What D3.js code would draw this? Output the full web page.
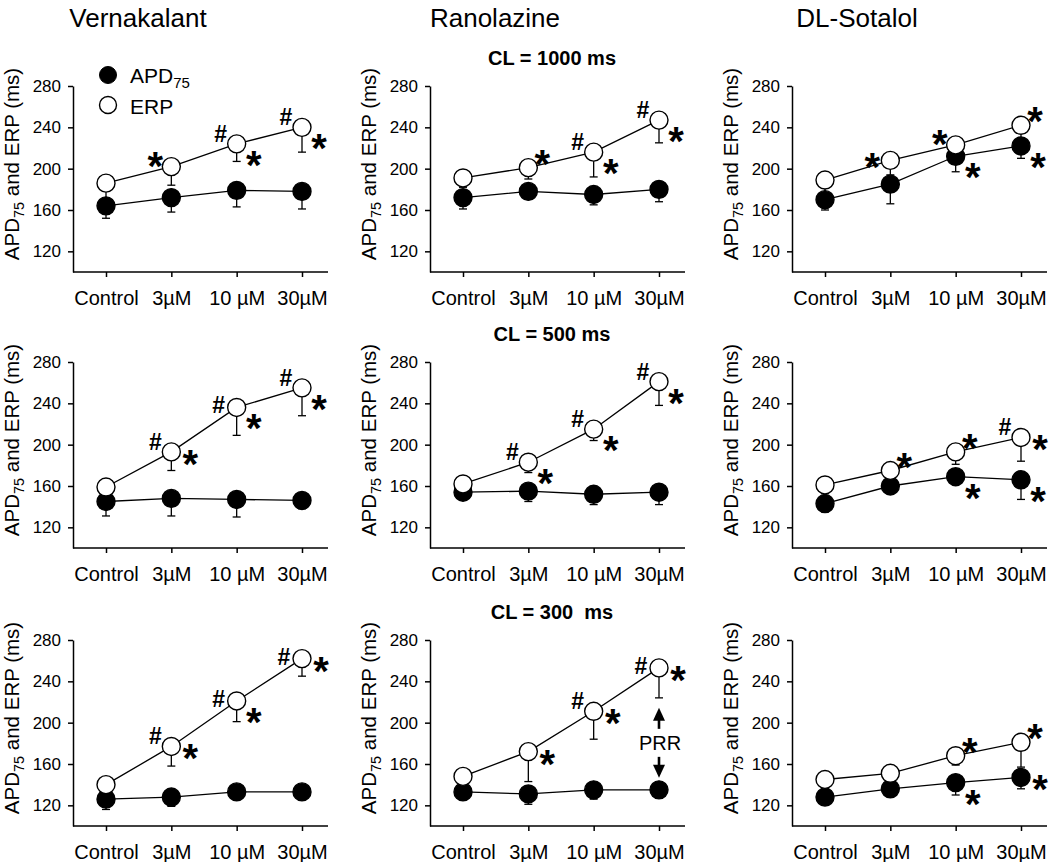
<!DOCTYPE html>
<html lang="en">
<head>
<meta charset="UTF-8">
<title>APD75 and ERP</title>
<script src="https://d3js.org/d3.v7.min.js"></script>
<style>
  body { margin: 0; background: #fff; }
  svg text { font-family: "Liberation Sans", Arial, sans-serif; fill: #000; }
</style>
</head>
<body>
<div id="chart"></div>
<script>
// columns = drugs, rows = pacing cycle length
var drugs = ["Vernakalant", "Ranolazine", "DL-Sotalol"];
var cycleLengths = ["CL = 1000 ms", "CL = 500 ms", "CL = 300  ms"];
var doses = ["Control", "3µM", "10 µM", "30µM"];
var yTicks = [120, 160, 200, 240, 280];

// [row][col] -> Control, 3, 10, 30 µM
var apdMean = [
    [[164, 172, 179, 178], [172, 178, 175, 180], [170, 185, 212, 222]],
    [[145, 148, 147, 146], [154, 155, 152, 154], [143, 160, 169, 166]],
    [[126, 128, 133, 133], [133, 131, 135, 135], [128, 136, 142, 147]]
];
var apdErr = [
    [[12, 14, 16, 17], [11, 6, 10, 12], [10, 19, 15, 12]],
    [[14, 17, 17, 8], [7, 10, 10, 12], [8, 5, 6, 19]],
    [[10, 9, 5, 5], [5, 10, 9, 8], [5, 5, 12, 11]]
];
var erpMean = [
    [[186, 202, 224, 240], [191, 201, 216, 247], [189, 208, 223, 242]],
    [[159, 193, 236, 255], [162, 183, 215, 261], [161, 175, 193, 207]],
    [[140, 177, 221, 262], [148, 172, 211, 253], [145, 151, 168, 181]]
];
var erpErr = [
    [[16, 18, 17, 24], [9, 11, 24, 22], [13, 14, 8, 14]],
    [[10, 18, 27, 27], [8, 10, 11, 23], [8, 6, 12, 23]],
    [[8, 19, 20, 17], [8, 29, 27, 29], [6, 5, 9, 24]]
];

// significance marks: row, col, dose index, series, symbol, placement
var marks = [
    [0, 0, 1, "erp", "*", "ul"], [0, 0, 2, "erp", "#", "ul"], [0, 0, 2, "erp", "*", "lr"],
    [0, 0, 3, "erp", "#", "ul"], [0, 0, 3, "erp", "*", "lr"],
    [0, 1, 1, "erp", "*", "ur"], [0, 1, 2, "erp", "#", "ul"], [0, 1, 2, "erp", "*", "lr"],
    [0, 1, 3, "erp", "#", "ul"], [0, 1, 3, "erp", "*", "lr"],
    [0, 2, 1, "erp", "*", "l"], [0, 2, 2, "erp", "*", "ul"], [0, 2, 3, "erp", "*", "ur"],
    [0, 2, 2, "apd", "*", "lr"], [0, 2, 3, "apd", "*", "lr"],
    [1, 0, 1, "erp", "#", "ul"], [1, 0, 1, "erp", "*", "r"], [1, 0, 2, "erp", "#", "l"],
    [1, 0, 2, "erp", "*", "lr"], [1, 0, 3, "erp", "#", "ul"], [1, 0, 3, "erp", "*", "lr"],
    [1, 1, 1, "erp", "#", "ul"], [1, 1, 1, "erp", "*", "lr"], [1, 1, 2, "erp", "#", "ul"],
    [1, 1, 2, "erp", "*", "lr"], [1, 1, 3, "erp", "#", "ul"], [1, 1, 3, "erp", "*", "lr"],
    [1, 2, 1, "erp", "*", "ur"], [1, 2, 2, "erp", "*", "ur"], [1, 2, 3, "erp", "#", "ul"],
    [1, 2, 3, "erp", "*", "r"], [1, 2, 2, "apd", "*", "lr"], [1, 2, 3, "apd", "*", "lr"],
    [2, 0, 1, "erp", "#", "ul"], [2, 0, 1, "erp", "*", "r"], [2, 0, 2, "erp", "#", "l"],
    [2, 0, 2, "erp", "*", "lr"], [2, 0, 3, "erp", "#", "l"], [2, 0, 3, "erp", "*", "r"],
    [2, 1, 1, "erp", "*", "r"], [2, 1, 2, "erp", "#", "ul"], [2, 1, 2, "erp", "*", "r"],
    [2, 1, 3, "erp", "#", "l"], [2, 1, 3, "erp", "*", "r"],
    [2, 2, 2, "erp", "*", "ur"], [2, 2, 3, "erp", "*", "ur"],
    [2, 2, 2, "apd", "*", "lr"], [2, 2, 3, "apd", "*", "r"]
];
var place = { ul: [-16, -10], l: [-18, -2], ur: [14, -13], r: [19, 3], lr: [17, 12] };

var width = 1050, height = 862;
var colLeft = [73, 430, 792], rowTop = [86, 362, 640];
var plotW = 255, plotH = 186, radius = 9;

var svg = d3.select("#chart").append("svg")
    .attr("width", width)
    .attr("height", height);

// drug titles
svg.selectAll(".drug")
    .data(drugs)
    .enter().append("text")
    .attr("class", "drug")
    .attr("x", function (d, i) { return colLeft[i] + 65; })
    .attr("y", 27)
    .attr("text-anchor", "middle")
    .style("font-size", "26px")
    .text(function (d) { return d; });

// cycle length titles
svg.selectAll(".cl")
    .data(cycleLengths)
    .enter().append("text")
    .attr("class", "cl")
    .attr("x", colLeft[1] + 122)
    .attr("y", function (d, i) { return rowTop[i] - 21; })
    .attr("text-anchor", "middle")
    .style("font-size", "20px")
    .style("font-weight", "bold")
    .style("white-space", "pre")
    .text(function (d) { return d; });

for (var r = 0; r < 3; r++) {
    for (var c = 0; c < 3; c++) {
        drawPanel(r, c);
    }
}

function drawPanel(r, c) {
    var left = colLeft[c], top = rowTop[r];
    var x = d3.scalePoint().domain(doses).range([left + 33, left + 229]);
    var y = d3.scaleLinear().domain([100, 280]).range([top + plotH, top]);
    var g = svg.append("g");

    // y axis
    var ya = g.append("g")
        .attr("transform", "translate(" + left + ",0)")
        .call(d3.axisLeft(y).tickValues(yTicks).tickSize(5).tickSizeOuter(0).tickPadding(7));
    ya.attr("font-family", null).attr("font-size", null);
    ya.selectAll("path, line").attr("stroke", "#000").attr("stroke-width", 1.5);
    ya.selectAll("text").style("font-size", "17px");

    // x axis
    var xa = g.append("g")
        .attr("transform", "translate(0," + (top + plotH) + ")")
        .call(d3.axisBottom(x).tickSize(5).tickPadding(14));
    xa.attr("font-family", null).attr("font-size", null);
    xa.select(".domain").remove();
    xa.selectAll("line").attr("stroke", "#000").attr("stroke-width", 1.5);
    xa.selectAll("text").style("font-size", "20px");
    g.append("line")
        .attr("x1", left).attr("x2", left + plotW)
        .attr("y1", top + plotH).attr("y2", top + plotH)
        .attr("stroke", "#000").attr("stroke-width", 1.5);

    // y axis title
    var yl = g.append("text")
        .attr("transform", "translate(" + (left - 54) + "," + (top + plotH / 2 - 15) + ") rotate(-90)")
        .attr("text-anchor", "middle")
        .style("font-size", "20.5px");
    yl.append("tspan").text("APD");
    yl.append("tspan").attr("dy", 5).style("font-size", "14.5px").text("75");
    yl.append("tspan").attr("dy", -5).text(" and ERP (ms)");

    var series = [
        { key: "erp", mean: erpMean[r][c], err: erpErr[r][c], fill: "#fff" },
        { key: "apd", mean: apdMean[r][c], err: apdErr[r][c], fill: "#000" }
    ];

    var line = d3.line()
        .x(function (d, i) { return x(doses[i]); })
        .y(function (d) { return y(d); });

    series.forEach(function (s) {
        g.append("path")
            .attr("d", line(s.mean))
            .attr("fill", "none")
            .attr("stroke", "#000")
            .attr("stroke-width", 1.3);
    });

    // error bars (one sided, downward)
    series.forEach(function (s) {
        var eb = g.selectAll(".eb-" + s.key)
            .data(s.mean)
            .enter().append("g");
        eb.append("line")
            .attr("x1", function (d, i) { return x(doses[i]); })
            .attr("x2", function (d, i) { return x(doses[i]); })
            .attr("y1", function (d) { return y(d); })
            .attr("y2", function (d, i) { return y(d - s.err[i]); })
            .attr("stroke", "#000").attr("stroke-width", 1.3);
        eb.append("line")
            .attr("x1", function (d, i) { return x(doses[i]) - 4; })
            .attr("x2", function (d, i) { return x(doses[i]) + 4; })
            .attr("y1", function (d, i) { return y(d - s.err[i]); })
            .attr("y2", function (d, i) { return y(d - s.err[i]); })
            .attr("stroke", "#000").attr("stroke-width", 1.3);
    });

    // markers: APD first, ERP on top
    [series[1], series[0]].forEach(function (s) {
        g.selectAll(".pt-" + s.key)
            .data(s.mean)
            .enter().append("circle")
            .attr("cx", function (d, i) { return x(doses[i]); })
            .attr("cy", function (d) { return y(d); })
            .attr("r", radius)
            .attr("fill", s.fill)
            .attr("stroke", "#000")
            .attr("stroke-width", 1.4);
    });

    // significance marks
    marks.filter(function (m) { return m[0] === r && m[1] === c; }).forEach(function (m) {
        var v = m[3] === "erp" ? erpMean[r][c][m[2]] : apdMean[r][c][m[2]];
        var off = place[m[5]];
        var cx = x(doses[m[2]]) + off[0], cy = y(v) + off[1];
        if (m[4] === "*") {
            g.append("text")
                .attr("x", cx).attr("y", cy + 23)
                .attr("text-anchor", "middle")
                .style("font-size", "40px").style("font-weight", "bold")
                .text("*");
        } else {
            g.append("text")
                .attr("x", cx).attr("y", cy + 8)
                .attr("text-anchor", "middle")
                .style("font-size", "23px").style("font-weight", "bold")
                .text("#");
        }
    });

    // legend in the first panel
    if (r === 0 && c === 0) {
        var lg = g.append("g");
        lg.append("circle").attr("cx", left + 35).attr("cy", top - 11).attr("r", 8.5)
            .attr("fill", "#000").attr("stroke", "#000");
        lg.append("circle").attr("cx", left + 35).attr("cy", top + 19).attr("r", 8.5)
            .attr("fill", "#fff").attr("stroke", "#000").attr("stroke-width", 1.4);
        var t1 = lg.append("text").attr("x", left + 57).attr("y", top - 3).style("font-size", "21px");
        t1.append("tspan").text("APD");
        t1.append("tspan").attr("dy", 5).style("font-size", "15px").text("75");
        lg.append("text").attr("x", left + 57).attr("y", top + 28).style("font-size", "21px").text("ERP");
    }

    // PRR arrows (Ranolazine, CL = 300 ms, 30 µM)
    if (r === 2 && c === 1) {
        var px = x(doses[3]);
        var upTip = y(erpMean[r][c][3] - erpErr[r][c][3]) + 10;
        var downTip = y(apdMean[r][c][3]) - radius - 3;
        var mid = (upTip + downTip) / 2;
        g.append("line").attr("x1", px).attr("x2", px).attr("y1", upTip + 8).attr("y2", mid - 14)
            .attr("stroke", "#000").attr("stroke-width", 2.6);
        g.append("path").attr("d", "M" + px + "," + upTip + "l-6,13h12z");
        g.append("line").attr("x1", px).attr("x2", px).attr("y1", mid + 14).attr("y2", downTip - 8)
            .attr("stroke", "#000").attr("stroke-width", 2.6);
        g.append("path").attr("d", "M" + px + "," + downTip + "l-6,-13h12z");
        g.append("text").attr("x", px + 1).attr("y", mid + 7)
            .attr("text-anchor", "middle").style("font-size", "20px").text("PRR");
    }
}
</script>
</body>
</html>
